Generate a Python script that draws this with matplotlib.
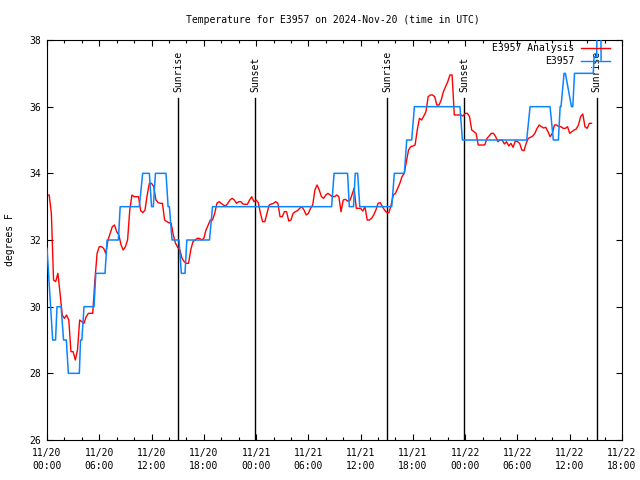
import numpy as np
import matplotlib
matplotlib.use("Agg")
import matplotlib.pyplot as plt
from matplotlib.lines import Line2D

title = "Temperature for E3957 on 2024-Nov-20 (time in UTC)"
ylabel = "degrees F"
label_analysis = "E3957 Analysis"
label_obs = "E3957"

# hours since 2024-11-20 00:00 UTC
red_start = 0.0
red_step = 0.25
red_v = [
    33.35, 33.35, 32.8, 30.8, 30.75, 31.0, 30.4, 29.75,
    29.65, 29.75, 29.6, 28.65, 28.65, 28.4, 28.7, 29.6,
    29.55, 29.5, 29.7, 29.8, 29.8, 29.8, 30.8, 31.6,
    31.8, 31.8, 31.75, 31.6, 32.0, 32.2, 32.4, 32.45,
    32.25, 32.15, 31.85, 31.7, 31.8, 32.0, 32.9, 33.35,
    33.3, 33.3, 33.3, 32.88, 32.82, 32.9, 33.35, 33.7,
    33.7, 33.6, 33.2, 33.12, 33.1, 33.1, 32.6, 32.55,
    32.52, 32.5, 32.15, 31.9, 31.78, 31.7, 31.45, 31.35,
    31.3, 31.3, 31.7, 31.95, 32.0, 32.05, 32.05, 32.0,
    32.05, 32.3, 32.45, 32.6, 32.6, 32.8, 33.1, 33.15,
    33.1, 33.05, 33.02, 33.1, 33.2, 33.25, 33.2, 33.1,
    33.15, 33.15, 33.08, 33.07, 33.07, 33.2, 33.3, 33.15,
    33.2, 33.12, 32.8, 32.55, 32.55, 32.8, 33.05, 33.08,
    33.1, 33.15, 33.1, 32.7, 32.7, 32.85, 32.85, 32.57,
    32.6, 32.8, 32.85, 32.88, 32.95, 33.0, 32.9, 32.75,
    32.8, 32.95, 33.05, 33.5, 33.65, 33.5, 33.3, 33.25,
    33.35, 33.4, 33.35, 33.3, 33.3, 33.35, 33.3, 32.85,
    33.2, 33.22, 33.17, 33.18, 33.35, 33.55, 32.95, 32.95,
    32.95, 32.87, 33.0, 32.6, 32.6, 32.65, 32.75, 32.9,
    33.1, 33.12, 33.0, 32.9, 32.82, 32.82, 33.05, 33.35,
    33.4, 33.55, 33.7, 33.9, 34.0, 34.35, 34.7, 34.8,
    34.82, 34.85, 35.3, 35.65, 35.6, 35.72, 35.85, 36.3,
    36.35, 36.35, 36.3, 36.05, 36.05, 36.2, 36.45, 36.6,
    36.75, 36.95, 36.95, 35.75, 35.75, 35.75, 35.75, 35.72,
    35.8, 35.8, 35.7, 35.3, 35.25, 35.2, 34.85, 34.85,
    34.85, 34.85, 35.05, 35.12, 35.2, 35.2, 35.1, 34.95,
    35.0, 35.0, 34.88, 34.95, 34.82, 34.9, 34.78, 34.97,
    34.95, 34.9, 34.7, 34.68, 34.9, 35.05, 35.08, 35.12,
    35.2, 35.35, 35.45, 35.4, 35.36, 35.38, 35.25, 35.1,
    35.2, 35.45, 35.45, 35.4, 35.4, 35.35, 35.35, 35.4,
    35.2, 35.25, 35.3, 35.33, 35.45, 35.7, 35.78, 35.4,
    35.35, 35.5, 35.5,
]

blue_t = [0.0, 0.65, 0.98, 1.15, 1.62, 1.9, 2.22, 2.45, 3.71, 3.85, 4.0, 4.25,
          5.4, 5.6, 6.66, 6.9, 8.19, 8.4, 10.6, 10.98, 11.75, 12.0, 12.2, 12.45,
          13.66, 13.9, 14.05, 14.35, 15.15, 15.42, 15.84, 16.05, 18.65, 19.0,
          32.67, 32.95, 34.5, 34.7, 35.18, 35.38, 35.66, 35.9, 39.57, 39.87,
          41.02, 41.29, 41.86, 42.17, 47.4, 47.68, 55.06, 55.45, 57.74, 58.12,
          58.7, 58.9, 59.0, 59.35, 59.5, 60.2, 60.35, 60.55, 62.7, 62.8, 63.1,
          63.15, 63.55, 63.6]
blue_v = [31.75, 29, 29, 30, 30, 29, 29, 28, 28, 29, 29, 30,
          30, 31, 31, 32, 32, 33, 33, 34, 34, 33, 33, 34,
          34, 33, 33, 32, 32, 31, 31, 32, 32, 33,
          33, 34, 34, 33, 33, 34, 34, 33, 33, 34,
          34, 35, 35, 36, 36, 35, 35, 36, 36, 35,
          35, 36, 36, 37, 37, 36, 36, 37, 37, 37.5, 37.5,
          39.5, 39.5, 37.4]

sunrise_t = [15.07, 39.06, 63.08]
sunset_t = [23.88, 47.9]

xtick_hours = [0, 6, 12, 18, 24, 30, 36, 42, 48, 54, 60, 66]
xtick_labels = ["11/20\n00:00", "11/20\n06:00", "11/20\n12:00", "11/20\n18:00",
                "11/21\n00:00", "11/21\n06:00", "11/21\n12:00", "11/21\n18:00",
                "11/22\n00:00", "11/22\n06:00", "11/22\n12:00", "11/22\n18:00"]
ytick_vals = [26, 28, 30, 32, 34, 36, 38]

FONT = "DejaVu Sans Mono"
FS = 7
plt.rcParams['font.family'] = FONT
plt.rcParams['font.size'] = FS

RED = "#ff0000"
BLUE = "#0a84ff"

fig = plt.figure(figsize=(6.4, 4.8), dpi=100)
ax = fig.add_axes([47/640, 40/480, 575/640, 400/480])

red_t = red_start + red_step * np.arange(len(red_v))

line_top = 36.26
label_base = 36.44
for t in sunrise_t:
    ax.plot([t, t], [26, line_top], color="black", lw=1.0, zorder=1)
    ax.text(t, label_base, "Sunrise", rotation=90, ha="center", va="bottom", fontsize=FS)
for t in sunset_t:
    ax.plot([t, t], [26, line_top], color="black", lw=1.0, zorder=1)
    ax.text(t, label_base, "Sunset", rotation=90, ha="center", va="bottom", fontsize=FS)

ax.plot(red_t, red_v, color=RED, lw=1.0, zorder=2)
ax.plot(blue_t, blue_v, color=BLUE, lw=1.1, zorder=3)

ax.set_xlim(0, 66)
ax.set_ylim(26, 38)
ax.set_xticks(xtick_hours)
ax.set_xticklabels(xtick_labels, linespacing=1.45)
ax.set_xticks(np.arange(0, 67, 2), minor=True)
ax.set_yticks(ytick_vals)
ax.tick_params(axis="both", which="major", direction="in", length=4, width=0.8,
               top=True, right=True, pad=4.5, labelsize=FS)
ax.tick_params(axis="x", which="major", pad=5.5)
ax.tick_params(axis="x", which="minor", direction="in", length=2.2, width=0.8,
               top=True, bottom=True)
for s in ax.spines.values():
    s.set_linewidth(0.8)

fig.text(333/640, 1 - 20/480, title, ha="center", va="center", fontsize=FS)
fig.text(10/640, 0.5, ylabel, rotation=90, ha="center", va="center", fontsize=FS)

handles = [Line2D([], [], color=RED, lw=1.0), Line2D([], [], color=BLUE, lw=1.0)]
ax.legend(handles, [label_analysis, label_obs], loc="upper right",
          bbox_to_anchor=(610/640, 1 - 43/480), bbox_transform=fig.transFigure,
          frameon=False, markerfirst=False, borderpad=0, borderaxespad=0,
          handlelength=3.0, handletextpad=0.7, labelspacing=0.35, fontsize=FS)

fig.savefig("out.png", dpi=100)
